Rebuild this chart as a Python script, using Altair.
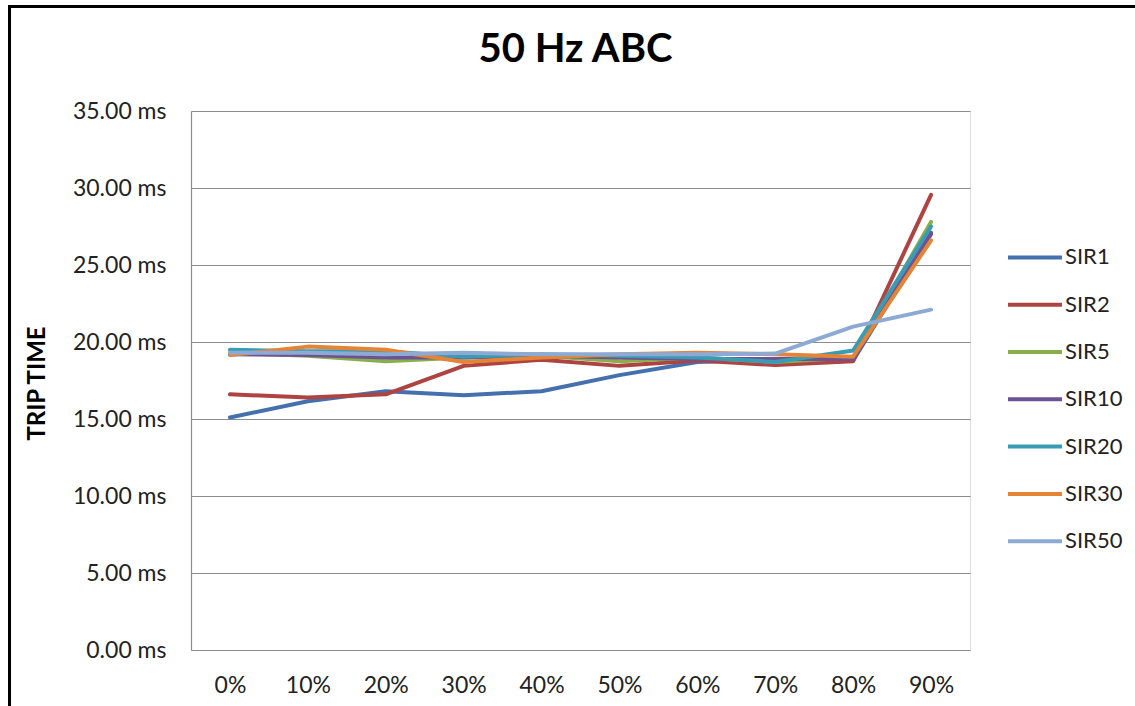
import altair as alt
import pandas as pd

categories = ["0%", "10%", "20%", "30%", "40%", "50%", "60%", "70%", "80%", "90%"]
series_names = ["SIR1", "SIR2", "SIR5", "SIR10", "SIR20", "SIR30", "SIR50"]
sir1 = [15.10, 16.15, 16.80, 16.55, 16.80, 17.85, 18.70, 18.85, 18.80, 27.00]
sir2 = [16.60, 16.40, 16.60, 18.45, 18.85, 18.45, 18.80, 18.50, 18.75, 29.55]
sir5 = [19.30, 19.10, 18.75, 19.00, 19.10, 18.75, 19.00, 18.70, 19.00, 27.80]
sir10 = [19.20, 19.15, 19.00, 19.00, 19.10, 19.00, 18.90, 18.90, 18.90, 27.10]
sir20 = [19.50, 19.40, 19.40, 19.05, 19.20, 19.10, 19.00, 18.70, 19.45, 27.50]
sir30 = [19.15, 19.70, 19.50, 18.70, 19.00, 19.20, 19.30, 19.20, 19.05, 26.60]
sir50 = [19.30, 19.30, 19.20, 19.30, 19.20, 19.20, 19.20, 19.25, 21.00, 22.10]
colors = ["#4470AE", "#AE4441", "#8AAF4A", "#6D5393", "#3A9BB5", "#E48434", "#8DAAD4"]
y_ticks = [0, 5, 10, 15, 20, 25, 30, 35]

all_series = [sir1, sir2, sir5, sir10, sir20, sir30, sir50]
rows = []
for name, vals in zip(series_names, all_series):
    for i, (c, v) in enumerate(zip(categories, vals)):
        rows.append({"load": c, "series": name, "ms": v, "order": i})
df = pd.DataFrame(rows)

FONT = "Lato"

lines = alt.Chart(df).mark_line(strokeWidth=4, strokeJoin="round", strokeCap="round").encode(
    x=alt.X("load:N", sort=categories, scale=alt.Scale(paddingInner=0, paddingOuter=0.5),
            axis=alt.Axis(title=None, labelAngle=0, ticks=False, domain=False, grid=False,
                          labelFontSize=23, labelFont=FONT, labelColor="#222222",
                          labelPadding=24)),
    y=alt.Y("ms:Q", scale=alt.Scale(domain=[0, 35], nice=False),
            axis=alt.Axis(values=y_ticks, labelExpr="format(datum.value, '.2f') + ' ms'",
                          title="TRIP TIME", titleFont=FONT, titleFontSize=24,
                          titleFontWeight="bold", titleColor="#000000",
                          titleAngle=270, titleX=-154, titleY=272,
                          titleAlign="center", titleBaseline="middle",
                          ticks=False, labelPadding=25, labelFontSize=23,
                          labelFont=FONT, labelColor="#222222",
                          domain=True, domainColor="#8c8c8c", domainWidth=1.2,
                          grid=True, gridColor="#8c8c8c", gridWidth=1.2)),
    color=alt.Color("series:N", sort=series_names,
                    scale=alt.Scale(domain=series_names, range=colors),
                    legend=alt.Legend(title=None, orient="none", legendX=815, legendY=117.4,
                                      symbolType="stroke", symbolSize=2916,
                                      symbolStrokeWidth=4, rowPadding=7.3, padding=0,
                                      labelFontSize=22, labelFont=FONT, labelColor="#222222",
                                      labelOffset=1)),
    order="order:Q",
)

frame_df = pd.DataFrame({"k": [0]})
left_border = alt.Chart(frame_df).mark_rule(color="#000000", strokeWidth=3).encode(
    x=alt.value(-181.5), y=alt.value(-104.5), y2=alt.value(620)
)
top_border = alt.Chart(frame_df).mark_rule(color="#000000", strokeWidth=3).encode(
    x=alt.value(-183), x2=alt.value(960), y=alt.value(-104.5)
)

chart = alt.layer(lines, left_border, top_border).properties(
    width=779, height=539,
    autosize=alt.AutoSizeParams(type="none"),
    padding={"left": 191, "top": 111, "right": 165, "bottom": 56},
    title=alt.Title("50 Hz ABC", font=FONT, fontSize=40, fontWeight="bold",
                    color="#000000", anchor="middle", offset=-65, dx=-5),
).configure_view(stroke=None).configure(background="#ffffff")

chart.save("out.html", embed_options={"renderer": "svg", "actions": False})
